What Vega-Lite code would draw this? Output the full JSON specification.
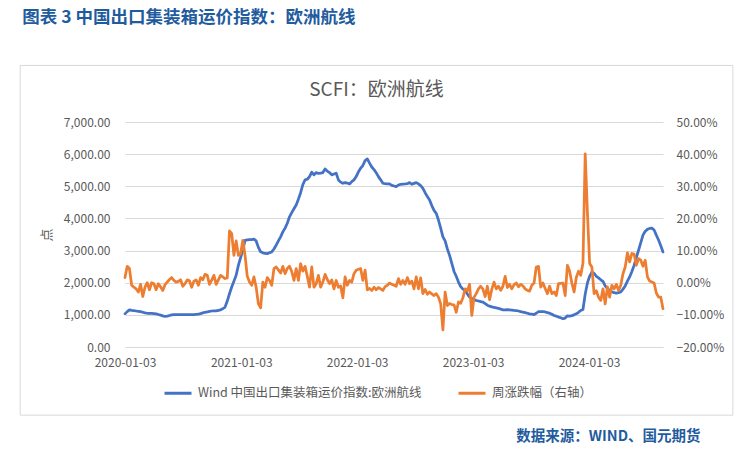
{
"$schema": "https://vega.github.io/schema/vega-lite/v6.json",
"width": 538,
"height": 225,
"autosize": {"type": "none"},
"padding": {"left": 125, "top": 122, "right": 91, "bottom": 124},
"background": "white",
"config": {"font": "Noto Sans CJK SC", "view": {"stroke": null}, "axis": {"labelColor": "#595959", "labelFontSize": 12, "titleColor": "#595959", "titleFontWeight": "normal"}},
"title": {"text": "图表 3 中国出口集装箱运价指数：欧洲航线", "anchor": "start", "frame": "bounds", "dx": 2.5, "offset": 38, "fontSize": 17.5, "fontWeight": "bold", "color": "#1f5c9e"},
"data": {"values": [
{"d":"2020-01-03","v":1030,"p":0.016},{"d":"2020-01-10","v":1100,"p":0.051},{"d":"2020-01-17","v":1156,"p":0.044},{"d":"2020-01-24","v":1140,"p":-0.008},{"d":"2020-01-31","v":1130,"p":-0.014},
{"d":"2020-02-07","v":1120,"p":-0.019},{"d":"2020-02-14","v":1110,"p":-0.029},{"d":"2020-02-21","v":1100,"p":-0.005},{"d":"2020-02-28","v":1080,"p":-0.043},
{"d":"2020-03-06","v":1060,"p":-0.014},{"d":"2020-03-13","v":1050,"p":0.0},{"d":"2020-03-20","v":1050,"p":-0.022},{"d":"2020-03-27","v":1045,"p":0.0},
{"d":"2020-04-03","v":1040,"p":-0.003},{"d":"2020-04-10","v":1030,"p":-0.022},{"d":"2020-04-17","v":1010,"p":-0.003},{"d":"2020-04-24","v":990,"p":-0.013},
{"d":"2020-05-01","v":970,"p":-0.024},{"d":"2020-05-08","v":950,"p":-0.006},{"d":"2020-05-15","v":960,"p":0.002},{"d":"2020-05-22","v":980,"p":0.010},{"d":"2020-05-29","v":1000,"p":0.016},
{"d":"2020-06-05","v":1010,"p":0.007},{"d":"2020-06-12","v":1010,"p":0.002},{"d":"2020-06-19","v":1010,"p":0.004},{"d":"2020-06-26","v":1010,"p":0.009},
{"d":"2020-07-03","v":1010,"p":-0.011},{"d":"2020-07-10","v":1010,"p":-0.003},{"d":"2020-07-17","v":1010,"p":0.009},{"d":"2020-07-24","v":1010,"p":0.006},{"d":"2020-07-31","v":1010,"p":-0.014},
{"d":"2020-08-07","v":1010,"p":0.005},{"d":"2020-08-14","v":1015,"p":0.009},{"d":"2020-08-21","v":1020,"p":-0.008},{"d":"2020-08-28","v":1040,"p":0.016},
{"d":"2020-09-04","v":1060,"p":0.009},{"d":"2020-09-11","v":1080,"p":0.026},{"d":"2020-09-18","v":1090,"p":0.023},{"d":"2020-09-25","v":1110,"p":-0.005},
{"d":"2020-10-02","v":1120,"p":0.008},{"d":"2020-10-09","v":1125,"p":0.023},{"d":"2020-10-16","v":1125,"p":-0.005},{"d":"2020-10-23","v":1140,"p":0.009},{"d":"2020-10-30","v":1156,"p":0.023},
{"d":"2020-11-06","v":1190,"p":0.018},{"d":"2020-11-13","v":1240,"p":0.013},{"d":"2020-11-20","v":1430,"p":0.015},{"d":"2020-11-27","v":1656,"p":0.161},
{"d":"2020-12-04","v":1865,"p":0.153},{"d":"2020-12-11","v":2050,"p":0.085},{"d":"2020-12-18","v":2230,"p":0.130},{"d":"2020-12-25","v":2540,"p":0.085},
{"d":"2021-01-01","v":2780,"p":0.090},{"d":"2021-01-08","v":3010,"p":0.132},{"d":"2021-01-15","v":3320,"p":0.085},{"d":"2021-01-22","v":3330,"p":0.020},{"d":"2021-01-29","v":3340,"p":0.002},
{"d":"2021-02-05","v":3340,"p":-0.008},{"d":"2021-02-12","v":3354,"p":0.018},{"d":"2021-02-19","v":3300,"p":-0.014},{"d":"2021-02-26","v":3100,"p":-0.066},
{"d":"2021-03-05","v":2960,"p":-0.078},{"d":"2021-03-12","v":2930,"p":0.002},{"d":"2021-03-19","v":2910,"p":-0.014},{"d":"2021-03-26","v":2906,"p":0.016},
{"d":"2021-04-02","v":2930,"p":0.007},{"d":"2021-04-09","v":2958,"p":-0.008},{"d":"2021-04-16","v":3050,"p":0.044},{"d":"2021-04-23","v":3166,"p":0.049},{"d":"2021-04-30","v":3300,"p":0.040},
{"d":"2021-05-07","v":3427,"p":0.030},{"d":"2021-05-14","v":3580,"p":0.051},{"d":"2021-05-21","v":3700,"p":0.028},{"d":"2021-05-28","v":3850,"p":0.044},
{"d":"2021-06-04","v":4050,"p":0.051},{"d":"2021-06-11","v":4180,"p":0.035},{"d":"2021-06-18","v":4300,"p":0.007},{"d":"2021-06-25","v":4417,"p":0.044},
{"d":"2021-07-02","v":4600,"p":0.007},{"d":"2021-07-09","v":4800,"p":0.059},{"d":"2021-07-16","v":5050,"p":0.036},{"d":"2021-07-23","v":5198,"p":0.051},{"d":"2021-07-30","v":5219,"p":0.020},
{"d":"2021-08-06","v":5302,"p":-0.014},{"d":"2021-08-13","v":5437,"p":0.049},{"d":"2021-08-20","v":5354,"p":-0.014},{"d":"2021-08-27","v":5427,"p":-0.003},
{"d":"2021-09-03","v":5400,"p":0.023},{"d":"2021-09-10","v":5406,"p":-0.014},{"d":"2021-09-17","v":5427,"p":0.002},{"d":"2021-09-24","v":5542,"p":0.026},
{"d":"2021-10-01","v":5470,"p":0.010},{"d":"2021-10-08","v":5427,"p":-0.003},{"d":"2021-10-15","v":5354,"p":0.009},{"d":"2021-10-22","v":5380,"p":-0.019},{"d":"2021-10-29","v":5406,"p":0.007},
{"d":"2021-11-05","v":5198,"p":-0.014},{"d":"2021-11-12","v":5130,"p":-0.010},{"d":"2021-11-19","v":5094,"p":-0.047},{"d":"2021-11-26","v":5115,"p":0.018},
{"d":"2021-12-03","v":5100,"p":-0.008},{"d":"2021-12-10","v":5073,"p":0.007},{"d":"2021-12-17","v":5146,"p":0.002},{"d":"2021-12-24","v":5200,"p":0.028},{"d":"2021-12-31","v":5302,"p":0.039},
{"d":"2022-01-07","v":5450,"p":0.042},{"d":"2022-01-14","v":5562,"p":0.044},{"d":"2022-01-21","v":5646,"p":0.007},{"d":"2022-01-28","v":5800,"p":0.039},
{"d":"2022-02-04","v":5854,"p":-0.022},{"d":"2022-02-11","v":5719,"p":-0.018},{"d":"2022-02-18","v":5600,"p":-0.024},{"d":"2022-02-25","v":5520,"p":-0.014},
{"d":"2022-03-04","v":5420,"p":-0.022},{"d":"2022-03-11","v":5300,"p":-0.015},{"d":"2022-03-18","v":5200,"p":-0.019},{"d":"2022-03-25","v":5094,"p":-0.024},
{"d":"2022-04-01","v":5080,"p":-0.012},{"d":"2022-04-08","v":5073,"p":-0.008},{"d":"2022-04-15","v":5073,"p":-0.001},{"d":"2022-04-22","v":5030,"p":-0.005},{"d":"2022-04-29","v":5010,"p":-0.008},
{"d":"2022-05-06","v":4990,"p":-0.011},{"d":"2022-05-13","v":5040,"p":0.013},{"d":"2022-05-20","v":5063,"p":-0.005},{"d":"2022-05-27","v":5070,"p":0.007},
{"d":"2022-06-03","v":5073,"p":-0.005},{"d":"2022-06-10","v":5080,"p":0.016},{"d":"2022-06-17","v":5115,"p":-0.003},{"d":"2022-06-24","v":5063,"p":0.005},
{"d":"2022-07-01","v":5090,"p":-0.019},{"d":"2022-07-08","v":5115,"p":0.018},{"d":"2022-07-15","v":5073,"p":-0.019},{"d":"2022-07-22","v":5020,"p":0.015},{"d":"2022-07-29","v":4937,"p":-0.034},
{"d":"2022-08-05","v":4800,"p":-0.021},{"d":"2022-08-12","v":4680,"p":-0.036},{"d":"2022-08-19","v":4573,"p":-0.029},{"d":"2022-08-26","v":4400,"p":-0.035},
{"d":"2022-09-02","v":4250,"p":-0.040},{"d":"2022-09-09","v":4156,"p":-0.034},{"d":"2022-09-16","v":3950,"p":-0.045},{"d":"2022-09-23","v":3700,"p":-0.066},{"d":"2022-09-30","v":3427,"p":-0.147},
{"d":"2022-10-07","v":3300,"p":-0.029},{"d":"2022-10-14","v":3050,"p":-0.071},{"d":"2022-10-21","v":2850,"p":-0.065},{"d":"2022-10-28","v":2600,"p":-0.068},
{"d":"2022-11-04","v":2350,"p":-0.069},{"d":"2022-11-11","v":2200,"p":-0.092},{"d":"2022-11-18","v":2021,"p":-0.060},{"d":"2022-11-25","v":1880,"p":-0.064},
{"d":"2022-12-02","v":1800,"p":-0.047},{"d":"2022-12-09","v":1760,"p":-0.019},{"d":"2022-12-16","v":1650,"p":-0.025},{"d":"2022-12-23","v":1552,"p":-0.005},{"d":"2022-12-30","v":1510,"p":-0.102},
{"d":"2023-01-06","v":1480,"p":-0.045},{"d":"2023-01-13","v":1448,"p":-0.034},{"d":"2023-01-20","v":1430,"p":-0.019},{"d":"2023-01-27","v":1410,"p":-0.011},
{"d":"2023-02-03","v":1396,"p":-0.020},{"d":"2023-02-10","v":1350,"p":-0.043},{"d":"2023-02-17","v":1300,"p":-0.011},{"d":"2023-02-24","v":1271,"p":-0.053},
{"d":"2023-03-03","v":1250,"p":-0.020},{"d":"2023-03-10","v":1230,"p":0.002},{"d":"2023-03-17","v":1219,"p":-0.019},{"d":"2023-03-24","v":1200,"p":-0.011},{"d":"2023-03-31","v":1180,"p":-0.024},
{"d":"2023-04-07","v":1156,"p":-0.011},{"d":"2023-04-14","v":1156,"p":0.020},{"d":"2023-04-21","v":1160,"p":-0.015},{"d":"2023-04-28","v":1156,"p":-0.005},
{"d":"2023-05-05","v":1150,"p":-0.019},{"d":"2023-05-12","v":1140,"p":-0.006},{"d":"2023-05-19","v":1135,"p":-0.001},{"d":"2023-05-26","v":1120,"p":-0.013},
{"d":"2023-06-02","v":1100,"p":-0.005},{"d":"2023-06-09","v":1083,"p":-0.010},{"d":"2023-06-16","v":1070,"p":-0.019},{"d":"2023-06-23","v":1050,"p":-0.024},{"d":"2023-06-30","v":1031,"p":-0.026},
{"d":"2023-07-07","v":1020,"p":-0.008},{"d":"2023-07-14","v":1010,"p":-0.001},{"d":"2023-07-21","v":1050,"p":0.049},{"d":"2023-07-28","v":1100,"p":0.051},
{"d":"2023-08-04","v":1104,"p":-0.014},{"d":"2023-08-11","v":1104,"p":-0.001},{"d":"2023-08-18","v":1090,"p":-0.018},{"d":"2023-08-25","v":1070,"p":-0.034},
{"d":"2023-09-01","v":1052,"p":-0.011},{"d":"2023-09-08","v":1020,"p":-0.034},{"d":"2023-09-15","v":979,"p":-0.029},{"d":"2023-09-22","v":960,"p":-0.040},{"d":"2023-09-29","v":930,"p":-0.003},
{"d":"2023-10-06","v":910,"p":-0.002},{"d":"2023-10-13","v":880,"p":-0.001},{"d":"2023-10-20","v":900,"p":-0.040},{"d":"2023-10-27","v":970,"p":0.054},
{"d":"2023-11-03","v":960,"p":0.036},{"d":"2023-11-10","v":975,"p":-0.001},{"d":"2023-11-17","v":1000,"p":-0.029},{"d":"2023-11-24","v":1031,"p":0.016},
{"d":"2023-12-01","v":1080,"p":0.036},{"d":"2023-12-08","v":1135,"p":0.023},{"d":"2023-12-15","v":1165,"p":0.061},{"d":"2023-12-22","v":1640,"p":0.401},{"d":"2023-12-29","v":1990,"p":0.220},
{"d":"2024-01-05","v":2200,"p":0.060},{"d":"2024-01-12","v":2333,"p":0.049},{"d":"2024-01-19","v":2290,"p":-0.034},{"d":"2024-01-26","v":2200,"p":-0.025},
{"d":"2024-02-02","v":2150,"p":-0.045},{"d":"2024-02-09","v":2090,"p":-0.055},{"d":"2024-02-16","v":2040,"p":-0.019},{"d":"2024-02-23","v":1900,"p":-0.066},
{"d":"2024-03-01","v":1820,"p":-0.013},{"d":"2024-03-08","v":1760,"p":-0.045},{"d":"2024-03-15","v":1720,"p":-0.008},{"d":"2024-03-22","v":1690,"p":-0.019},{"d":"2024-03-29","v":1677,"p":-0.005},
{"d":"2024-04-05","v":1690,"p":-0.024},{"d":"2024-04-12","v":1710,"p":-0.008},{"d":"2024-04-19","v":1800,"p":0.028},{"d":"2024-04-26","v":1900,"p":0.049},
{"d":"2024-05-03","v":2050,"p":0.093},{"d":"2024-05-10","v":2180,"p":0.065},{"d":"2024-05-17","v":2350,"p":0.091},{"d":"2024-05-24","v":2540,"p":0.089},{"d":"2024-05-31","v":2780,"p":0.054},
{"d":"2024-06-07","v":3010,"p":0.075},{"d":"2024-06-14","v":3250,"p":0.070},{"d":"2024-06-21","v":3479,"p":0.051},{"d":"2024-06-28","v":3600,"p":0.070},
{"d":"2024-07-05","v":3660,"p":0.018},{"d":"2024-07-12","v":3690,"p":0.005},{"d":"2024-07-19","v":3698,"p":0.002},{"d":"2024-07-26","v":3640,"p":-0.001},
{"d":"2024-08-02","v":3480,"p":-0.032},{"d":"2024-08-09","v":3330,"p":-0.045},{"d":"2024-08-16","v":3150,"p":-0.045},{"d":"2024-08-23","v":2958,"p":-0.081}
]},
"layer": [
  {"layer": [
    {"data": {"values": [{}]},
     "mark": {"type": "rect", "fill": "transparent", "stroke": "#d9d9d9", "strokeWidth": 1},
     "encoding": {
       "x": {"datum": {"year":2019,"month":2,"date":7,"utc":true}, "type": "temporal",
             "scale": {"type": "utc", "nice": false, "domain": [{"year":2020,"month":1,"date":3,"utc":true},{"year":2024,"month":8,"date":23,"utc":true}]},
             "axis": {"values": [{"year":2020,"month":1,"date":3,"utc":true},{"year":2021,"month":1,"date":3,"utc":true},{"year":2022,"month":1,"date":3,"utc":true},{"year":2023,"month":1,"date":3,"utc":true},{"year":2024,"month":1,"date":3,"utc":true}],
               "labelExpr": "utcFormat(datum.value, '%Y-%m-%d')", "grid": false, "ticks": false, "domain": true, "domainColor": "#d9d9d9", "labelPadding": 10, "labelFlush": false, "labelOverlap": false,
               "title": "数据来源：WIND、国元期货", "titleX": 575, "titleY": 89, "titleAlign": "right", "titleBaseline": "middle", "titleColor": "#1f5c9e", "titleFontSize": 14.5, "titleFontWeight": "bold"}},
       "x2": {"datum": {"year":2025,"month":3,"date":31,"utc":true}},
       "y": {"datum": 8760, "type": "quantitative", "scale": {"domain": [0, 7000], "nice": false},
             "axis": {"values": [0,1000,2000,3000,4000,5000,6000,7000], "format": ",.2f", "grid": true, "gridColor": "#d9d9d9", "ticks": false, "domain": false, "labelPadding": 15,
                      "title": "点", "titleFontSize": 13, "titlePadding": 10}},
       "y2": {"datum": -2120}
     }},
    {"mark": {"type": "line", "strokeWidth": 2.75, "strokeJoin": "round", "strokeCap": "round"},
     "encoding": {
       "x": {"field": "d", "type": "temporal",
             "scale": {"type": "utc", "nice": false, "domain": [{"year":2020,"month":1,"date":3,"utc":true},{"year":2024,"month":8,"date":23,"utc":true}]},
             "axis": {"values": [{"year":2020,"month":1,"date":3,"utc":true},{"year":2021,"month":1,"date":3,"utc":true},{"year":2022,"month":1,"date":3,"utc":true},{"year":2023,"month":1,"date":3,"utc":true},{"year":2024,"month":1,"date":3,"utc":true}],
               "labelExpr": "utcFormat(datum.value, '%Y-%m-%d')", "grid": false, "ticks": false, "domain": true, "domainColor": "#d9d9d9", "labelPadding": 10, "labelFlush": false, "labelOverlap": false,
               "title": "数据来源：WIND、国元期货", "titleX": 575, "titleY": 89, "titleAlign": "right", "titleBaseline": "middle", "titleColor": "#1f5c9e", "titleFontSize": 14.5, "titleFontWeight": "bold"}},
       "y": {"field": "v", "type": "quantitative", "scale": {"domain": [0, 7000], "nice": false},
             "axis": {"values": [0,1000,2000,3000,4000,5000,6000,7000], "format": ",.2f", "grid": true, "gridColor": "#d9d9d9", "ticks": false, "domain": false, "labelPadding": 15,
                      "title": "点", "titleFontSize": 13, "titlePadding": 10}},
       "color": {"datum": "Wind 中国出口集装箱运价指数:欧洲航线", "type": "nominal",
                 "scale": {"domain": ["Wind 中国出口集装箱运价指数:欧洲航线", "周涨跌幅（右轴）"], "range": ["#4472c4", "#ed7d31"]},
                 "legend": {"orient": "none", "legendX": 38, "legendY": 256, "direction": "horizontal", "title": null, "symbolType": "stroke", "symbolStrokeWidth": 3, "symbolSize": 729,
                            "labelFontSize": 12.5, "labelColor": "#595959", "columnPadding": 30, "labelLimit": 400, "labelOffset": 5}}
     }}
  ]},
  {"mark": {"type": "line", "strokeWidth": 2.75, "strokeJoin": "round", "strokeCap": "round"},
   "encoding": {
     "x": {"field": "d", "type": "temporal",
           "scale": {"type": "utc", "nice": false, "domain": [{"year":2020,"month":1,"date":3,"utc":true},{"year":2024,"month":8,"date":23,"utc":true}]},
           "axis": {"values": [{"year":2020,"month":1,"date":3,"utc":true},{"year":2021,"month":1,"date":3,"utc":true},{"year":2022,"month":1,"date":3,"utc":true},{"year":2023,"month":1,"date":3,"utc":true},{"year":2024,"month":1,"date":3,"utc":true}],
             "labelExpr": "utcFormat(datum.value, '%Y-%m-%d')", "grid": false, "ticks": false, "domain": true, "domainColor": "#d9d9d9", "labelPadding": 10, "labelFlush": false, "labelOverlap": false,
             "title": "数据来源：WIND、国元期货", "titleX": 575, "titleY": 89, "titleAlign": "right", "titleBaseline": "middle", "titleColor": "#1f5c9e", "titleFontSize": 14.5, "titleFontWeight": "bold"}},
     "y": {"field": "p", "type": "quantitative", "scale": {"domain": [-0.2, 0.5], "nice": false, "zero": false},
           "axis": {"orient": "right", "values": [-0.2,-0.1,0,0.1,0.2,0.3,0.4,0.5], "format": ".2%", "grid": false, "ticks": false, "domain": false, "labelPadding": 13,
                    "title": "SCFI：欧洲航线", "titleAngle": 0, "titleX": -287, "titleY": -33, "titleAlign": "center", "titleBaseline": "middle", "titleFontSize": 19, "titleColor": "#595959", "titleFontWeight": "normal"}},
     "color": {"datum": "周涨跌幅（右轴）", "type": "nominal"}
   }}
],
"resolve": {"scale": {"y": "independent"}}
}
